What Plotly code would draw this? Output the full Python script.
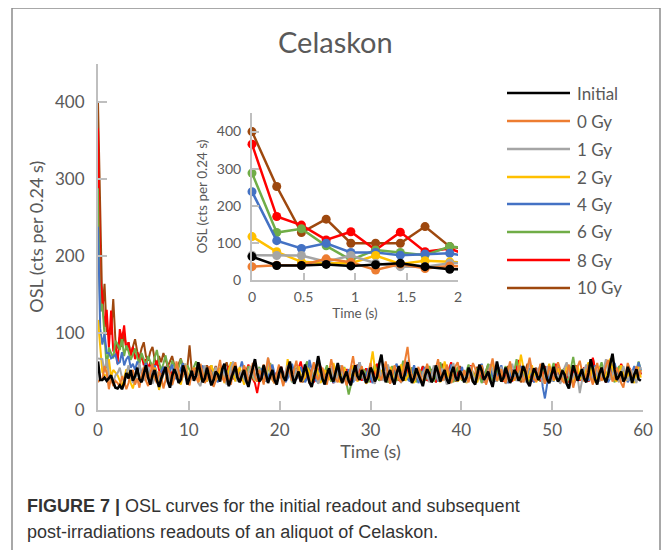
import plotly.graph_objects as go

# ---------------- data ----------------
DT = 0.24
series_names = ["Initial", "0 Gy", "1 Gy", "2 Gy", "4 Gy", "6 Gy", "8 Gy", "10 Gy"]
series_colors = ["#000000", "#ED7D31", "#A5A5A5", "#FFC000", "#4472C4", "#70AD47", "#FF0000", "#9E480E"]

initial = [63,39,39,42,38,41,45,36,29,28,
    32,27,35,48,41,52,38,44,55,40,36,47,58,42,33,45,52,39,30,41,
    48,56,37,29,44,53,46,35,40,58,49,33,42,51,38,45,62,47,36,41,
    55,43,32,39,50,46,37,53,60,44,31,40,48,57,42,36,45,52,38,30,
    43,55,66,49,37,41,58,47,35,44,52,39,33,47,56,43,38,51,63,46,
    34,42,50,37,45,59,48,36,30,41,53,70,57,40,33,46,54,42,37,48,
    61,45,35,43,50,38,32,47,58,44,39,52,46,35,41,55,49,37,43,60,
    72,50,36,45,52,40,33,48,57,43,38,50,62,47,35,42,54,46,39,31,
    44,53,47,36,41,58,49,37,45,52,40,34,48,56,43,38,51,45,36,42,
    55,48,37,33,46,59,51,39,44,50,38,30,45,63,49,37,42,55,46,35,
    41,52,47,38,44,57,50,36,31,43,54,48,39,45,61,52,40,35,47,56,
    44,37,42,51,46,34,28,43,58,49,38,45,53,41,36,48,66,54,40,33,
    47,55,43,36,45,60,73,52,39,44,50,37,42,56,48,35,46,53,40,38]

gy0 = [36,40,40,57,48,27,43,31,38,35,
    30,44,38,27,35,48,52,33,41,29,45,56,38,31,47,60,42,35,50,44,
    28,39,55,47,33,42,63,51,37,45,58,40,32,49,54,43,36,60,48,35,
    41,57,46,30,38,52,65,44,36,49,41,33,55,62,47,38,44,58,50,34,
    46,61,43,37,52,45,33,48,68,55,40,35,47,59,42,31,44,56,49,38,
    53,64,45,36,42,57,48,34,50,62,44,39,47,55,41,33,49,66,52,40,
    36,48,58,45,32,41,55,70,51,38,46,57,43,35,48,61,47,37,53,44,
    39,52,63,47,34,45,58,49,40,36,51,64,82,55,42,38,47,56,44,33,
    48,60,45,37,43,55,66,50,38,44,59,48,35,41,57,62,46,39,52,43,
    36,49,61,54,40,46,58,45,33,42,56,67,50,38,45,53,41,35,50,63,
    47,39,44,58,50,36,41,55,68,52,40,37,49,60,46,34,43,57,51,39,
    45,62,53,38,35,48,59,44,29,41,56,64,49,37,46,58,42,33,50,61,
    46,38,44,57,65,50,37,42,55,47,35,29,48,61,53,40,45,57,44,52]

gy1 = [67,66,66,49,66,45,36,36,45,48,
    55,42,37,46,58,44,35,40,52,61,45,38,43,56,48,34,41,50,43,37,
    46,57,49,36,32,44,55,47,39,51,60,45,37,42,53,48,35,31,46,58,
    50,41,36,47,56,43,38,52,45,33,40,55,63,48,37,44,51,40,35,49,
    57,46,39,43,54,48,36,41,68,52,40,35,46,55,42,38,50,58,45,37,
    42,53,47,36,40,56,49,38,45,60,47,34,41,52,44,37,48,57,43,36,
    47,58,50,39,35,44,54,46,38,49,62,51,40,36,45,53,42,34,47,56,
    44,38,49,59,48,36,41,52,45,35,43,57,64,50,39,46,55,41,37,48,
    53,44,36,42,58,51,39,45,54,43,33,40,52,61,47,38,44,50,42,36,
    48,57,45,37,43,55,49,38,35,46,59,52,41,37,48,56,43,34,40,53,
    60,47,38,44,52,41,36,49,63,50,39,45,54,44,35,42,57,48,37,43,
    51,45,34,40,55,62,47,36,43,51,42,22,38,52,59,46,39,44,56,45,
    37,42,53,66,50,40,45,54,43,36,48,57,46,38,44,52,41,35,49,56]

gy2 = [117,76,49,45,45,66,43,52,49,45,
    38,30,42,53,46,35,28,40,51,44,37,49,58,45,34,41,55,47,26,36,
    48,57,44,35,42,53,46,38,33,47,60,50,39,44,55,48,36,41,52,45,
    37,46,58,49,38,43,54,47,35,40,51,62,48,37,45,56,44,33,41,50,
    57,46,38,44,53,48,36,42,58,50,39,35,47,56,45,38,43,66,52,40,
    36,48,57,45,38,43,55,49,37,44,59,47,35,41,52,46,39,48,61,50,
    42,36,47,55,44,39,49,58,46,37,43,53,45,34,41,57,76,54,40,44,
    52,45,37,42,56,48,36,41,50,59,47,38,44,55,43,35,46,54,40,37,
    48,58,49,38,44,53,42,36,47,63,52,40,45,56,44,37,41,50,46,35,
    43,55,49,39,36,47,58,45,38,42,54,62,48,37,44,51,41,36,49,57,
    46,38,45,53,72,55,41,37,46,58,48,36,43,52,44,39,50,60,47,38,
    42,54,47,37,44,59,51,39,35,46,57,45,38,43,55,62,49,40,36,47,
    56,44,39,45,53,67,51,40,37,48,58,46,38,44,52,43,35,47,56,42]

gy4 = [238,106,85,99,74,74,67,70,72,60,
    62,75,58,66,70,55,60,52,63,57,48,54,61,50,45,53,58,47,42,50,
    56,48,43,51,59,46,40,47,55,61,49,42,38,46,54,47,41,50,58,45,
    37,44,53,48,40,36,46,57,50,42,47,55,44,38,45,52,63,51,40,36,
    47,55,46,39,43,54,48,37,42,51,59,47,38,44,53,45,36,41,50,60,
    49,40,44,56,47,36,42,65,53,41,38,47,55,44,37,43,52,46,35,40,
    51,58,45,39,44,53,47,36,41,55,62,48,38,45,54,43,35,42,51,46,
    39,48,57,45,36,43,54,60,47,38,44,52,41,37,49,58,46,35,42,50,
    56,44,38,46,55,48,37,42,53,47,36,45,59,50,40,37,47,56,43,38,
    45,54,46,36,41,52,60,48,38,44,55,45,37,42,50,58,47,39,36,46,
    53,44,38,47,57,49,40,45,54,43,36,42,51,59,30,15,33,52,41,37,
    48,56,45,39,36,46,55,44,34,38,46,40,45,54,47,38,43,52,58,46,
    39,44,53,47,36,42,55,61,48,38,45,53,44,36,41,50,57,46,62,52]

gy6 = [288,128,138,92,54,81,74,67,90,85,
    78,92,70,84,76,65,72,80,68,60,74,66,58,70,63,55,68,78,62,52,
    60,71,57,50,64,58,48,55,66,53,46,58,52,44,56,63,49,42,54,47,
    41,50,58,46,39,44,55,49,38,45,53,60,48,40,47,54,43,37,46,57,
    50,42,38,47,56,45,36,43,52,61,49,39,45,54,44,37,42,51,47,36,
    44,55,48,38,42,57,63,49,39,45,53,44,36,41,50,58,46,37,43,52,
    47,38,44,56,35,20,32,45,55,48,39,44,53,46,36,42,51,59,47,38,
    45,54,43,36,48,57,49,38,44,52,64,50,39,45,55,44,36,41,50,47,
    38,46,57,49,37,43,54,62,48,39,45,53,43,36,47,56,45,38,42,51,
    59,47,38,45,54,44,35,41,52,60,49,38,44,53,43,37,48,57,45,36,
    42,51,66,50,39,45,54,44,36,43,52,47,38,46,57,48,37,42,53,61,
    48,39,44,53,45,36,42,56,69,51,40,45,54,43,37,47,58,49,38,44,
    52,62,49,39,45,54,43,36,48,57,46,38,44,53,45,37,42,51,63,50]

gy8 = [366,171,148,108,130,81,129,76,85,60,
    105,92,110,78,88,70,82,66,75,62,70,58,66,54,62,50,58,64,52,47,
    56,49,60,53,45,51,58,47,42,50,56,44,40,48,55,46,41,49,53,44,
    39,47,55,48,40,45,52,43,37,46,57,49,41,44,53,46,38,42,51,59,
    48,40,35,22,38,47,55,45,37,43,52,48,39,46,56,47,38,42,50,44,
    37,46,54,63,49,40,45,53,43,36,42,51,57,46,39,44,53,41,35,47,
    56,48,38,44,53,45,37,42,50,58,47,38,45,54,44,36,41,52,60,48,
    39,44,53,43,35,46,55,47,38,42,51,63,49,40,45,54,43,37,48,56,
    46,38,43,52,44,36,47,57,48,39,44,53,62,50,40,45,54,44,37,42,
    51,58,47,38,44,53,45,36,42,50,59,48,39,46,55,44,37,43,52,46,
    37,45,54,65,50,40,46,55,44,37,43,52,47,38,45,56,48,39,42,51,
    60,48,39,45,54,44,36,42,51,58,47,38,46,55,44,37,49,68,52,40,
    45,54,43,36,47,56,48,38,44,53,60,49,39,45,54,43,37,48,57,46]

gy10 = [400,252,128,164,99,99,99,144,90,80,
    95,82,100,78,88,72,84,92,76,68,80,88,70,64,76,82,66,58,70,62,
    74,66,57,63,70,58,52,60,67,55,48,56,84,51,46,54,60,49,44,52,
    58,48,42,50,57,47,40,46,54,62,50,41,45,53,44,38,47,56,48,40,
    44,53,45,37,42,51,59,47,39,45,54,44,36,43,52,47,38,46,57,49,
    40,45,54,43,36,47,56,48,38,44,53,64,50,40,46,55,45,37,42,51,
    58,46,38,44,53,45,36,42,51,59,48,39,45,54,43,37,48,57,46,38,
    43,52,44,36,47,56,48,39,44,53,61,49,40,46,55,44,37,42,51,57,
    47,38,44,53,45,36,42,51,60,48,39,45,54,43,37,48,57,46,38,44,
    52,44,36,47,56,48,38,43,52,59,47,39,45,54,44,37,42,51,57,46,
    38,44,53,45,36,42,51,60,48,39,46,55,44,37,48,57,46,38,43,52,
    59,47,39,45,54,44,36,42,51,58,48,40,46,55,45,37,49,67,53,41,
    46,55,44,37,48,57,46,38,44,53,59,48,39,45,54,43,37,48,57,46]

series_values = [initial, gy0, gy1, gy2, gy4, gy6, gy8, gy10]

main_x_ticks = [0, 10, 20, 30, 40, 50, 60]
main_y_ticks = [0, 100, 200, 300, 400]
inset_x_ticks = [0, 0.5, 1, 1.5, 2]
inset_x_labels = ["0", "0.5", "1", "1.5", "2"]
inset_y_ticks = [0, 100, 200, 300, 400]
INSET_N = 10  # first readouts shown in the inset

# ---------------- layout helpers ----------------
# The page body has an 8px default margin, so screen pixel (x, y) maps to
# figure pixel (x - 8, y - 8).
W, H = 670, 550
OFF = 8
def PX(x):
    return (x - OFF) / W
def PY(y):
    return 1 - (y - OFF) / H

GRAY_TXT = "#595959"
AXIS_C = "#BFBFBF"
FONT = "Lato, 'Open Sans', sans-serif"

fig = go.Figure()

# main chart: draw from 10 Gy down to Initial so that black is on top
order = [7, 6, 5, 4, 3, 2, 1, 0]
for i in order:
    vals = series_values[i]
    t = [round(k * DT, 2) for k in range(len(vals))]
    fig.add_trace(go.Scatter(
        x=t, y=vals, mode="lines", name=series_names[i],
        line=dict(color=series_colors[i], width=2.6 if i == 0 else 2.0),
        xaxis="x", yaxis="y", showlegend=False, hoverinfo="skip"))

# inset
for i in order:
    vals = series_values[i][:INSET_N]
    t = [round(k * DT, 2) for k in range(len(vals))]
    fig.add_trace(go.Scatter(
        x=t, y=vals, mode="lines", line=dict(color=series_colors[i], width=2.5),
        xaxis="x2", yaxis="y2", showlegend=False, hoverinfo="skip"))
    tm = [v for v in t if v <= 2]
    fig.add_trace(go.Scatter(
        x=tm, y=vals[:len(tm)], mode="markers",
        marker=dict(color=series_colors[i], size=9),
        cliponaxis=False,
        xaxis="x2", yaxis="y2", showlegend=False, hoverinfo="skip"))

axis_common = dict(showline=True, linecolor=AXIS_C, linewidth=2, showgrid=False,
                   zeroline=False, ticks="inside", tickcolor=AXIS_C, tickwidth=2,
                   automargin=False)

fig.update_layout(
    width=W, height=H,
    margin=dict(l=0, r=0, t=0, b=0, autoexpand=False),
    paper_bgcolor="white", plot_bgcolor="rgba(0,0,0,0)",
    font=dict(family=FONT, color=GRAY_TXT),
    xaxis=dict(domain=[PX(98), PX(643)], range=[0, 60], tickvals=main_x_ticks,
               ticklen=9, tickfont=dict(size=17, color=GRAY_TXT), ticklabelstandoff=4,
               title=dict(text="Time (s)", font=dict(size=18, color=GRAY_TXT), standoff=4),
               anchor="y", **axis_common),
    yaxis=dict(domain=[PY(410), PY(63.5)], range=[0, 450], tickvals=main_y_ticks,
               ticklen=9, tickfont=dict(size=17, color=GRAY_TXT), ticklabelstandoff=8,
               title=dict(text="OSL (cts per 0.24 s)", font=dict(size=18, color=GRAY_TXT), standoff=7),
               anchor="x", **axis_common),
    xaxis2=dict(domain=[PX(252), PX(458)], range=[0, 2], tickvals=inset_x_ticks,
                ticktext=inset_x_labels, ticklen=7,
                tickfont=dict(size=14, color=GRAY_TXT), ticklabelstandoff=3,
                title=dict(text="Time (s)", font=dict(size=13.5, color=GRAY_TXT), standoff=4),
                anchor="y2", **axis_common),
    yaxis2=dict(domain=[PY(280), PY(113)], range=[0, 450], tickvals=inset_y_ticks,
                ticklen=7, tickfont=dict(size=14, color=GRAY_TXT), ticklabelstandoff=6,
                title=dict(text="OSL (cts per 0.24 s)", font=dict(size=13.5, color=GRAY_TXT), standoff=6),
                anchor="x2", **axis_common),
)

shapes = []
annotations = []

# outer frame
shapes.append(dict(type="rect", xref="paper", yref="paper",
                   x0=PX(12), x1=PX(660), y0=PY(570), y1=PY(8),
                   line=dict(color="#8C8C8C", width=1.5), layer="below"))

# title
annotations.append(dict(text="Celaskon", xref="paper", yref="paper",
                        x=PX(335), y=PY(42), xanchor="center", yanchor="middle",
                        showarrow=False, font=dict(size=29, color=GRAY_TXT, family=FONT)))

# legend (manual, Excel-style long line samples)
leg_y = [93, 121, 149, 177, 204, 232, 260, 288]
for i, name in enumerate(series_names):
    shapes.append(dict(type="line", xref="paper", yref="paper",
                       x0=PX(507), x1=PX(570), y0=PY(leg_y[i]), y1=PY(leg_y[i]),
                       line=dict(color=series_colors[i], width=2.5)))
    annotations.append(dict(text=name, xref="paper", yref="paper",
                            x=PX(575), y=PY(leg_y[i]), xanchor="left", yanchor="middle",
                            showarrow=False, font=dict(size=17, color=GRAY_TXT, family=FONT)))

# caption
CAP_FONT = "'Liberation Sans Narrow', 'Liberation Sans', Arial, sans-serif"
annotations.append(dict(text="<b>FIGURE 7 |</b> OSL curves for the initial readout and subsequent",
                        xref="paper", yref="paper", x=PX(25), y=PY(506), xanchor="left", yanchor="middle",
                        showarrow=False, font=dict(size=18, color="#333333", family=CAP_FONT)))
annotations.append(dict(text="post-irradiations readouts of an aliquot of Celaskon.",
                        xref="paper", yref="paper", x=PX(25), y=PY(532), xanchor="left", yanchor="middle",
                        showarrow=False, font=dict(size=18, color="#333333", family=CAP_FONT)))

fig.update_layout(shapes=shapes, annotations=annotations)

fig.write_html("out.html")
